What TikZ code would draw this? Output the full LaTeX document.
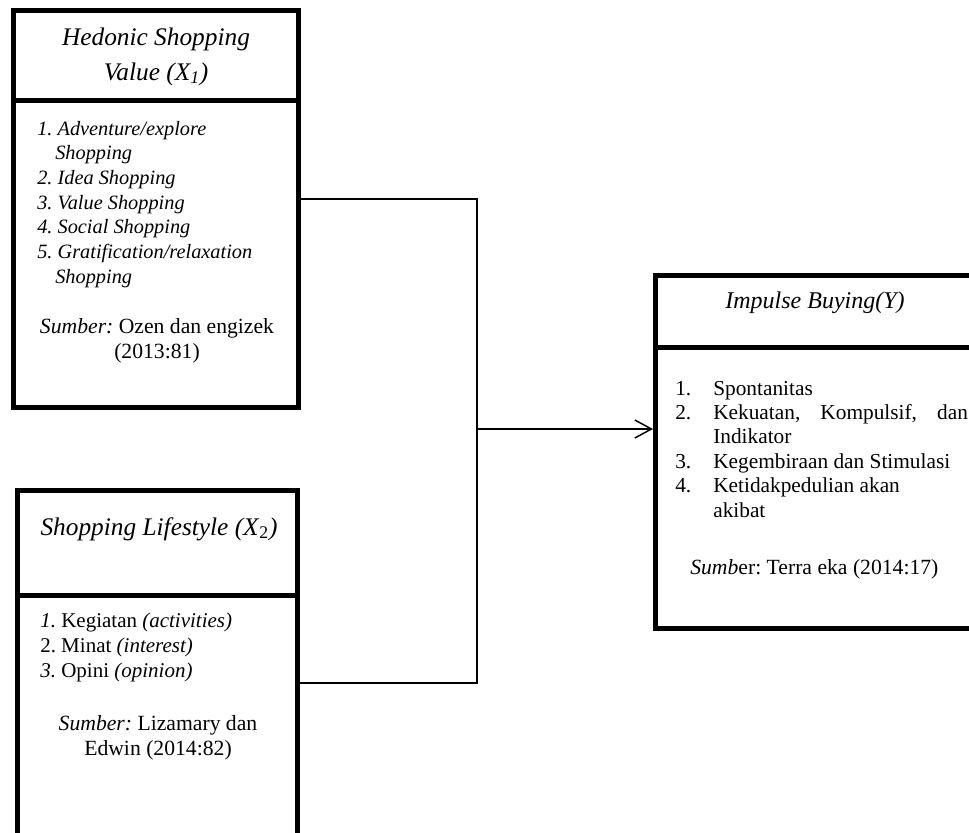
\documentclass[tikz,border=0pt]{standalone}
\usepackage{fontspec}
\setmainfont{Liberation Serif}
\usetikzlibrary{arrows.meta}

\tikzset{
    boxframe/.style={draw=black, line width=3.75pt, inner sep=0pt},
    headtxt/.style={font=\fontsize{19}{26}\selectfont\itshape, align=center, inner sep=0pt, anchor=base},
    listtxt/.style={font=\fontsize{15.75}{18.5}\selectfont, align=left, inner sep=0pt, anchor=base west},
    srctxt/.style={font=\fontsize{16.25}{18.75}\selectfont, align=center, inner sep=0pt, anchor=base},
    link/.style={draw=black, line width=1.1pt},
}
\frenchspacing

\begin{document}
\begin{tikzpicture}[x=0.75pt, y=-0.75pt]
    \useasboundingbox (0,0) rectangle (969,832);

    % variable boxes
    \node[boxframe, minimum width=213.75pt, minimum height=67.5pt]  (hsvHead) at (156,55.5) {};
    \node[boxframe, minimum width=213.75pt, minimum height=230.25pt] (hsvBody) at (156,254) {};
    \node[boxframe, minimum width=210pt, minimum height=78.75pt]    (slHead) at (157.5,542.5) {};
    \node[boxframe, minimum width=210pt, minimum height=228.75pt]   (slBody) at (157.5,747.5) {};
    \node[boxframe, minimum width=250.875pt, minimum height=54pt]   (ibHead) at (822.75,311.5) {};
    \node[boxframe, minimum width=250.875pt, minimum height=210.375pt] (ibBody) at (822.75,487.75) {};

    % texts (anchored on the baseline of their last line)
    \node[headtxt] (hsvTitle) at (156,80) {Hedonic Shopping\\Value (X\textsubscript{1})};
    \node[listtxt, font=\fontsize{15.25}{18.5}\selectfont\itshape] (hsvList) at (37,283)
        {1. Adventure/explore\\\hspace*{13.5pt}Shopping\\2. Idea Shopping\\3. Value Shopping\\4. Social Shopping\\5. Gratification/relaxation\\\hspace*{13.5pt}Shopping};
    \node[srctxt] (hsvSrc) at (157,358) {{\itshape Sumber:} Ozen dan engizek\\(2013:81)};

    \node[headtxt] (slTitle) at (159,535) {Shopping Lifestyle (X\textup{\textsubscript{2}})};
    \node[listtxt, font=\fontsize{15.75}{18.75}\selectfont] (slList) at (40,677)
        {{\itshape 1.} Kegiatan \textit{(activities)}\\2. Minat \textit{(interest)}\\{\itshape 3.} Opini \textit{(opinion)}};
    \node[srctxt] (slSrc) at (158,755) {{\itshape Sumber:} Lizamary dan\\Edwin (2014:82)};

    \node[headtxt, font=\fontsize{18}{24}\selectfont\itshape] (ibTitle) at (815,308) {Impulse Buying(Y)};
    \node[listtxt, font=\fontsize{16}{18.3}\selectfont] (ibList) at (675,517)
        {\makebox[28.5pt][l]{1.}Spontanitas\\
         \makebox[28.5pt][l]{2.}\makebox[191pt][s]{Kekuatan, Kompulsif, dan}\\
         \hspace*{28.5pt}Indikator\\
         \makebox[28.5pt][l]{3.}Kegembiraan dan Stimulasi\\
         \makebox[28.5pt][l]{4.}Ketidakpedulian akan\\
         \hspace*{28.5pt}akibat};
    \node[listtxt, font=\fontsize{16.25}{18.3}\selectfont] (ibSrc) at (690,574) {{\itshape Sumb}er: Terra eka (2014:17)};

    % connectors
    \coordinate (join) at (477,429);
    \draw[link] (hsvBody.east |- 0,199) -| (join);
    \draw[link] (slBody.east |- 0,683) -| (join);
    \draw[link, -{Straight Barb[length=12.5pt, width=13.5pt]}] (join) -- (ibBody.west |- join);
\end{tikzpicture}
\end{document}
